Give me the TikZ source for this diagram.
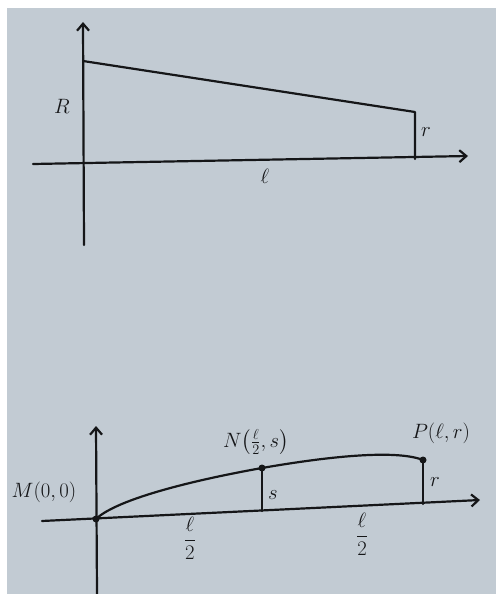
\documentclass[tikz,border=0pt]{standalone}
\usepackage{xcolor}
\usepackage{amsmath}
\usepackage{tikz}
\usetikzlibrary{arrows.meta}
\definecolor{paperblue}{HTML}{C2CBD3}
\definecolor{inkblack}{HTML}{151618}

\begin{document}
\begin{tikzpicture}[
    x=1pt,y=-1pt,
    line cap=round,
    line join=round,
    axis/.style={-{Straight Barb[length=7pt,width=12pt]}, line width=2.2pt, draw=inkblack},
    stroke/.style={line width=2.2pt, draw=inkblack},
    dot/.style={circle, fill=inkblack, minimum size=7pt, inner sep=0pt},
    lab/.style={font=\fontsize{20}{22}\selectfont, text=inkblack, inner sep=1pt}
]

% Paper
\fill[white] (0,0) rectangle (496,594);
\fill[paperblue] (7,8) rectangle (496,594);
\useasboundingbox (0,0) rectangle (496,594);

% Top picture: axes
\coordinate (ya1) at (84,245);
\coordinate (yb1) at (83,22);
\coordinate (xa1) at (33,164);
\coordinate (xb1) at (468,156);
\draw[axis] (ya1) -- (yb1);
\draw[axis] (xa1) -- (xb1);

% Top picture: slanted edge and end
\coordinate (top1) at (83,61);
\coordinate (top2) at (415,112);
\coordinate (foot2) at (415,159);
\draw[stroke] (top1) -- (top2) -- (foot2);
\node[lab] (labR) at (62,106) {$R$};
\node[lab] (labr1) at (426,132) {$r$};
\node[lab] (labl1) at (265,176) {$\ell$};

% Bottom picture: axes
\coordinate (ya2) at (97,594);
\coordinate (yb2) at (96,426);
\coordinate (xa2) at (42,521);
\coordinate (xb2) at (480,500);
\draw[axis] (ya2) -- (yb2);
\draw[axis] (xa2) -- (xb2);

% Bottom picture: points
\node[dot] (M) at (96,519) {};
\node[dot] (N) at (262,468) {};
\node[dot] (P) at (423,460) {};
\coordinate (Nfoot) at (262,511);
\coordinate (Pfoot) at (423,504);

\draw[stroke] (M.center) .. controls (118,498) and (200,479) .. (N.center)
    .. controls (325,457) and (395,449) .. (P.center);
\draw[stroke] (N.center) -- (Nfoot);
\draw[stroke] (P.center) -- (Pfoot);

\node[lab] (labM) at (44,492) {$M(0,0)$};
\node[lab] (labN) at (256,442) {$N\bigl(\tfrac{\ell}{2},s\bigr)$};
\node[lab] (labP) at (441,433) {$P(\ell,r)$};
\node[lab] (labs) at (273,495) {$s$};
\node[lab] (labr2) at (435,482) {$r$};
\node[lab] (half1) at (190,538) {$\dfrac{\ell}{2}$};
\node[lab] (half2) at (362,534) {$\dfrac{\ell}{2}$};

\end{tikzpicture}
\end{document}
